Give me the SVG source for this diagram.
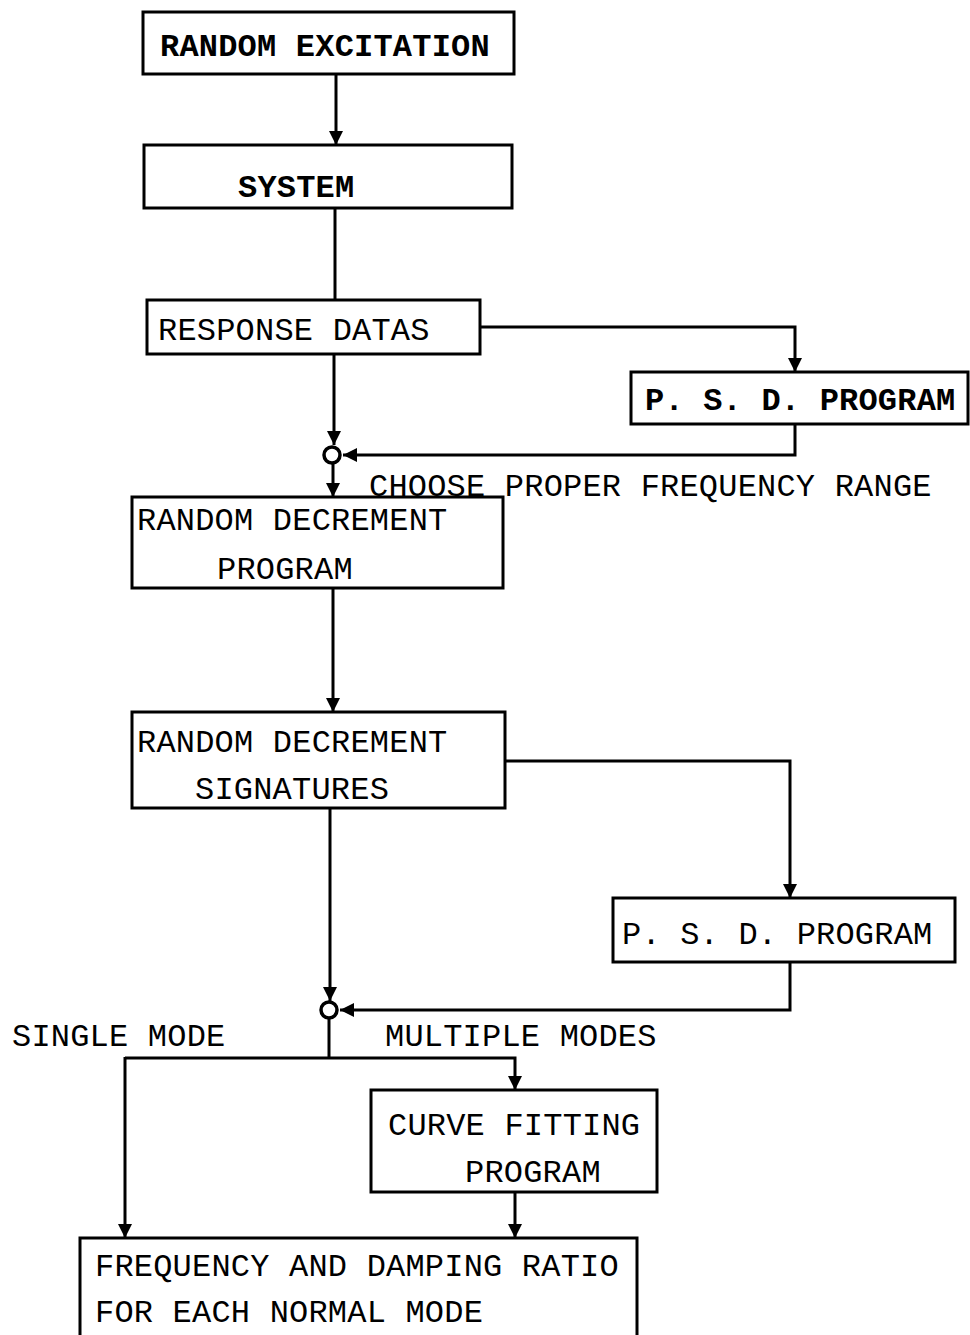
<svg xmlns="http://www.w3.org/2000/svg" width="970" height="1335" viewBox="0 0 970 1335">
<style>
.box{fill:#fff;stroke:#000;stroke-width:3}
.ln{fill:none;stroke:#000;stroke-width:3}
.t{font-family:"Liberation Mono","DejaVu Sans Mono",monospace;font-size:32px;letter-spacing:0.2px;fill:#000}
.b{font-weight:bold}
</style>
<defs>
<marker id="ah" markerUnits="userSpaceOnUse" markerWidth="16" markerHeight="16" refX="14" refY="7" orient="auto">
<path d="M0,0 L14,7 L0,14 Z" fill="#000"/>
</marker>
</defs>
<rect width="970" height="1335" fill="#fff"/>
<g id="connectors">
<line class="ln" x1="336" y1="74" x2="336" y2="145" marker-end="url(#ah)"/>
<line class="ln" x1="335" y1="208" x2="335" y2="300"/>
<polyline class="ln" points="480,327 795,327 795,372" marker-end="url(#ah)"/>
<line class="ln" x1="334" y1="354" x2="334" y2="445" marker-end="url(#ah)"/>
<polyline class="ln" points="795,424 795,455 343,455" marker-end="url(#ah)"/>
<line class="ln" x1="333" y1="463" x2="333" y2="497" marker-end="url(#ah)"/>
<line class="ln" x1="333" y1="588" x2="333" y2="712" marker-end="url(#ah)"/>
<polyline class="ln" points="505,761 790,761 790,898" marker-end="url(#ah)"/>
<line class="ln" x1="330" y1="808" x2="330" y2="1001" marker-end="url(#ah)"/>
<polyline class="ln" points="790,962 790,1010 340,1010" marker-end="url(#ah)"/>
<line class="ln" x1="329" y1="1018" x2="329" y2="1058"/>
<polyline class="ln" points="125,1058 515,1058 515,1090" marker-end="url(#ah)"/>
<line class="ln" x1="125" y1="1057" x2="125" y2="1238" marker-end="url(#ah)"/>
<line class="ln" x1="515" y1="1192" x2="515" y2="1238" marker-end="url(#ah)"/>
<circle cx="332" cy="455" r="8" fill="#fff" stroke="#000" stroke-width="3.5"/>
<circle cx="329" cy="1010" r="8" fill="#fff" stroke="#000" stroke-width="3.5"/>
</g>
<g id="n1"><rect class="box" x="143" y="12" width="371" height="62"/><text class="t b" x="160" y="56">RANDOM EXCITATION</text></g>
<g id="n2"><rect class="box" x="144" y="145" width="368" height="63"/><text class="t b" x="238" y="197">SYSTEM</text></g>
<g id="n3"><rect class="box" x="147" y="300" width="333" height="54"/><text class="t" x="158" y="340">RESPONSE DATAS</text></g>
<g id="n4"><rect class="box" x="631" y="372" width="337" height="52"/><text class="t b" x="645" y="410">P. S. D. PROGRAM</text></g>
<g id="lbl1"><text class="t" x="369" y="496">CHOOSE PROPER FREQUENCY RANGE</text></g>
<g id="n5"><rect class="box" x="132" y="497" width="371" height="91"/><text class="t" x="137" y="530">RANDOM DECREMENT</text><text class="t" x="217" y="579">PROGRAM</text></g>
<g id="n6"><rect class="box" x="132" y="712" width="373" height="96"/><text class="t" x="137" y="752">RANDOM DECREMENT</text><text class="t" x="195" y="799">SIGNATURES</text></g>
<g id="n7"><rect class="box" x="613" y="898" width="342" height="64"/><text class="t" x="622" y="944">P. S. D. PROGRAM</text></g>
<g id="lbl2"><text class="t" x="12" y="1046">SINGLE MODE</text><text class="t" x="385" y="1046">MULTIPLE MODES</text></g>
<g id="n8"><rect class="box" x="371" y="1090" width="286" height="102"/><text class="t" x="388" y="1135">CURVE FITTING</text><text class="t" x="465" y="1182">PROGRAM</text></g>
<g id="n9"><rect class="box" x="80" y="1238" width="557" height="110"/><text class="t" x="95" y="1276">FREQUENCY AND DAMPING RATIO</text><text class="t" x="95" y="1322">FOR EACH NORMAL MODE</text></g>
</svg>
